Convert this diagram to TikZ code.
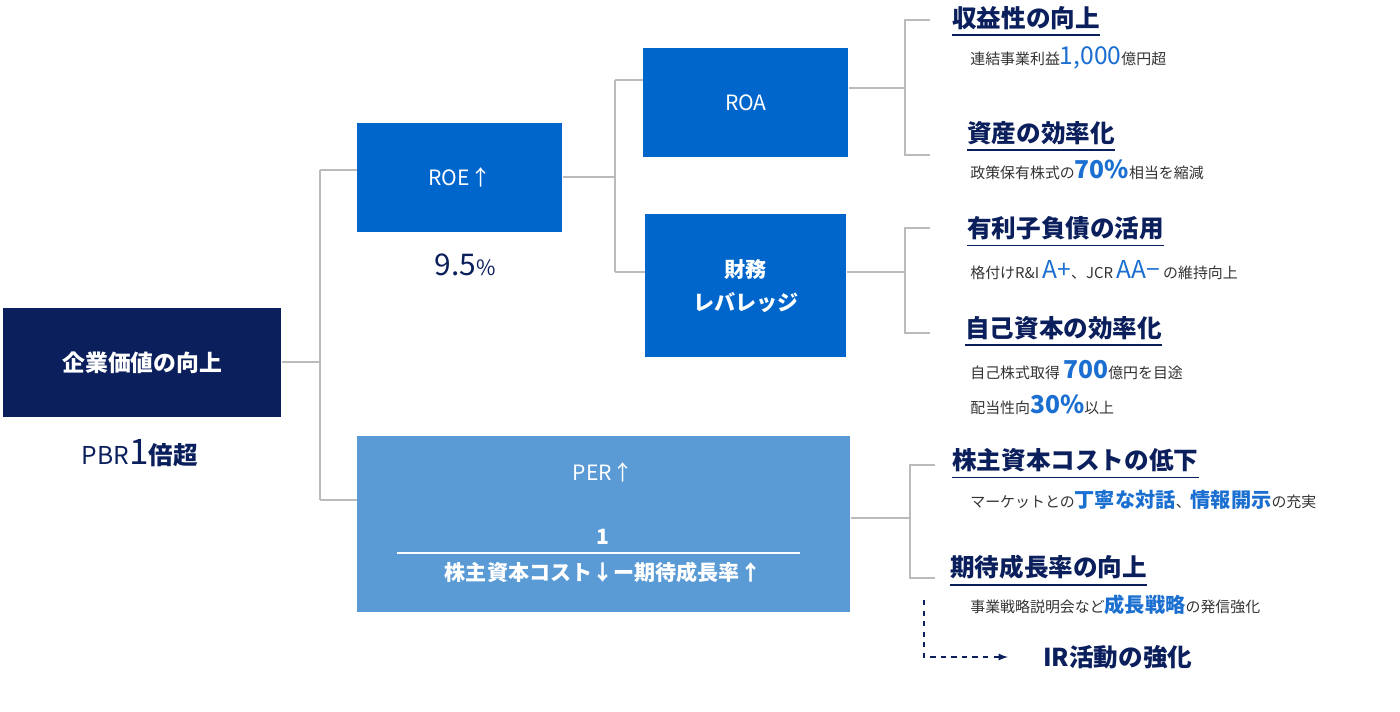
\documentclass[tikz,border=0pt]{standalone}
\usepackage{fontspec}
\setmainfont{Noto Sans CJK JP}
\definecolor{navy}{HTML}{0B1F5C}
\definecolor{midblue}{HTML}{0066CC}
\definecolor{lightblue}{HTML}{5B9BD5}
\definecolor{hlblue}{HTML}{1A6FD0}
\definecolor{subgray}{HTML}{333333}
\definecolor{linegray}{HTML}{BBBBBB}
\begin{document}
\begin{tikzpicture}
  [
    x = 0.02cm, y = -0.02cm,
    box/.style     = {anchor=north west, inner sep=0, text=white, align=center, font=\fontsize{12}{17}\selectfont},
    heading/.style = {anchor=west, inner sep=0, text=navy, font=\fontsize{14}{16}\selectfont\bfseries},
    subtext/.style = {anchor=west, inner sep=0, text=subgray, font=\fontsize{8.5}{10}\selectfont},
    link/.style    = {draw=linegray, line width=1.6pt},
    uline/.style   = {draw=navy, line width=1pt}
  ]
  \useasboundingbox (0,0) rectangle (1400,711);
  % boxes
  \node[box, fill=navy, minimum width=278*0.02cm, minimum height=109*0.02cm, font=\fontsize{13}{17}\selectfont\bfseries] (value) at (3,308) {企業価値の向上};
  \node[box, fill=midblue, minimum width=205*0.02cm, minimum height=109*0.02cm] (roe) at (357,123) {ROE↑};
  \node[box, fill=midblue, minimum width=205*0.02cm, minimum height=109*0.02cm] (roa) at (643,48) {ROA};
  \node[box, fill=midblue, minimum width=201*0.02cm, minimum height=143*0.02cm, font=\fontsize{12}{19}\selectfont\bfseries] (lev) at (645,214) {財務\\レバレッジ};
  \node[box, fill=lightblue, minimum width=493*0.02cm, minimum height=176*0.02cm] (per) at (357,436) {};
  \node[anchor=center, text=white, font=\fontsize{12}{14}\selectfont] (perlbl) at (603,472) {PER↑};
  \node[anchor=center, inner sep=0, text=white, font=\fontsize{12}{14}\selectfont\bfseries] (perden) at (603,572) {株主資本コスト↓ー期待成長率↑};
  \node[anchor=center, inner sep=0, text=white, font=\fontsize{12}{14}\selectfont\bfseries] (pernum) at (603,537) {1};
  \draw[white, line width=0.8pt] (397,553) -- (800,553);
  % figures under boxes
  \node[anchor=center, text=navy, font=\fontsize{14}{16}\selectfont] (pbr) at (140,453) {PBR\fontsize{20}{20}\selectfont 1\fontsize{14}{16}\selectfont\bfseries 倍超};
  \node[anchor=center, text=navy, font=\fontsize{17}{18}\selectfont] (roeval) at (465,265) {9.5\fontsize{12}{14}\selectfont\%};
  % connectors
  \coordinate (j1) at (320,362);
  \draw[link] (value.east |- j1) -- (j1) (320,170) -- (320,500);
  \draw[link] (320,170) -- (roe.west |- 0,170) (320,500) -- (per.west |- 0,500);
  \draw[link] (roe.east |- 0,177) -- (615,177) (615,80) -- (615,272);
  \draw[link] (615,80) -- (roa.west |- 0,80) (615,272) -- (lev.west |- 0,272);
  \draw[link] (roa.east |- 0,88) -- (905,88) (930,20) -- (905,20) -- (905,155) -- (930,155);
  \draw[link] (lev.east |- 0,272) -- (905,272) (930,228) -- (905,228) -- (905,333) -- (930,333);
  \draw[link] (per.east |- 0,518) -- (910,518) (935,465) -- (910,465) -- (910,578) -- (935,578);
  % headings and notes
  \node[heading] (h1) at (952,18) {収益性の向上};
  \node[subtext] (s1) at (970,58) {連結事業利益{\fontsize{14}{14}\selectfont\color{hlblue}1,000}億円超};
  \node[heading] (h2) at (967,133) {資産の効率化};
  \node[subtext] (s2) at (970,170) {政策保有株式の{\fontsize{14}{14}\selectfont\bfseries\color{hlblue}70\%}相当を縮減};
  \node[heading] (h3) at (967,228) {有利子負債の活用};
  \node[subtext] (s3) at (970,270) {格付けR\&I {\fontsize{14}{14}\selectfont\color{hlblue}A+}、JCR {\fontsize{14}{14}\selectfont\color{hlblue}AA−} の維持向上};
  \node[heading] (h4) at (965,328) {自己資本の効率化};
  \node[subtext] (s4) at (970,370) {自己株式取得 {\fontsize{14}{14}\selectfont\bfseries\color{hlblue}700}億円を目途};
  \node[subtext] (s5) at (970,405) {配当性向{\fontsize{14}{14}\selectfont\bfseries\color{hlblue}30\%}以上};
  \node[heading] (h5) at (952,460) {株主資本コストの低下};
  \node[subtext] (s6) at (970,500) {マーケットとの{\fontsize{11.5}{14}\selectfont\bfseries\color{hlblue}丁寧な対話}、{\fontsize{11.5}{14}\selectfont\bfseries\color{hlblue}情報開示}の充実};
  \node[heading] (h6) at (950,567) {期待成長率の向上};
  \node[subtext] (s7) at (970,605) {事業戦略説明会など{\fontsize{11.5}{14}\selectfont\bfseries\color{hlblue}成長戦略}の発信強化};
  \node[heading] (ir) at (1043,657) {IR活動の強化};
  \foreach \h in {h1,h2,h3,h4,h5,h6}
    \draw[uline] ([yshift=-3pt]\h.south west) -- ([yshift=-3pt]\h.south east);
  % dashed link to IR
  \coordinate (dtop) at (924,600);
  \draw[navy, dashed, line width=0.8pt, -latex] (dtop) |- ([xshift=-20pt]ir.west);
\end{tikzpicture}
\end{document}
